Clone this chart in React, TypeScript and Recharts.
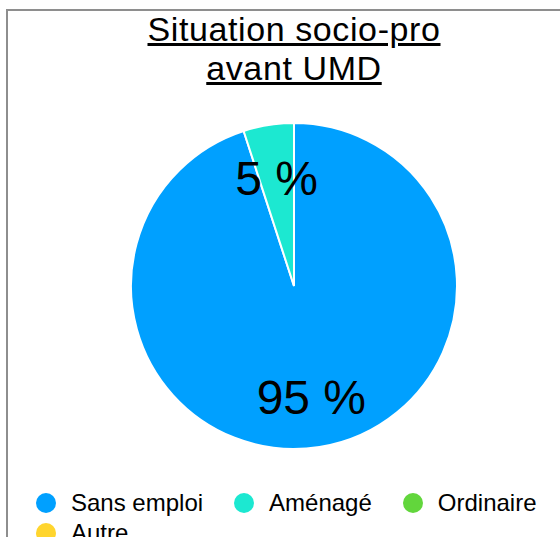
import {Legend, Pie, PieChart} from "recharts";

const categories = ["Sans emploi", "Aménagé", "Ordinaire", "Autre"];
const shares = [95, 5, 0, 0];
const colors = ["#00A0FF", "#1CE8D1", "#62D63C", "#FFD52E"];

const RADIAN = Math.PI / 180;

const renderLabel = (props: any) => {
    const {cx, cy, midAngle, outerRadius, percent} = props;
    if (!percent) return null;
    const r = outerRadius * 0.68;
    const x = cx + r * Math.cos(-midAngle * RADIAN);
    const y = cy + r * Math.sin(-midAngle * RADIAN) + 2;
    return (
        <text x={x} y={y} textAnchor="middle" dominantBaseline="central" fontSize={48} fill="#000">
            {`${Math.round(percent * 100)} %`}
        </text>
    );
};

const renderLegend = () => (
    <div style={{display: "flex", flexWrap: "wrap", width: 540}}>
        {categories.map((name, i) => (
            <div key={name} style={{display: "flex", alignItems: "center", height: 30, marginRight: 31}}>
                <span style={{
                    width: 20,
                    height: 20,
                    borderRadius: "50%",
                    background: colors[i],
                    boxShadow: "0 0 0 1px #fff",
                    marginRight: 15,
                }}/>
                <span style={{fontSize: 24, color: "#000"}}>{name}</span>
            </div>
        ))}
    </div>
);

const App = () => {
    const data = categories
        .map((name, i) => ({name, value: shares[i], fill: colors[i]}))
        .filter((d) => d.value > 0);

    return (
        <div style={{
            position: "absolute",
            left: 0,
            top: 0,
            width: 560,
            height: 537,
            overflow: "hidden",
            background: "#fff",
            fontFamily: "'Liberation Sans', Arial, sans-serif",
        }}>
            <div style={{
                position: "absolute",
                left: 6,
                top: 9,
                width: 700,
                height: 700,
                borderTop: "2px solid #8e8e8e",
                borderLeft: "2px solid #8e8e8e",
            }}/>
            <div style={{
                position: "absolute",
                left: 8,
                top: 10,
                width: 572,
                textAlign: "center",
                fontSize: 34,
                lineHeight: "39px",
                letterSpacing: 0.6,
                textDecoration: "underline",
                color: "#000",
            }}>
                Situation socio-pro<br/>avant UMD
            </div>
            <div style={{position: "absolute", left: 8, top: 0}}>
                <PieChart width={572} height={537} margin={{top: 0, right: 0, bottom: 0, left: 0}}>
                    <Pie
                        data={data}
                        dataKey="value"
                        nameKey="name"
                        cx={286}
                        cy={286}
                        outerRadius={163}
                        startAngle={90}
                        endAngle={-270}
                        stroke="#fff"
                        strokeWidth={2}
                        label={renderLabel}
                        labelLine={false}
                        isAnimationActive={false}
                    />
                    <Legend
                        content={renderLegend}
                        wrapperStyle={{left: 28, top: 488, width: 540, bottom: "auto"}}
                    />
                </PieChart>
            </div>
        </div>
    );
};

export default App;
